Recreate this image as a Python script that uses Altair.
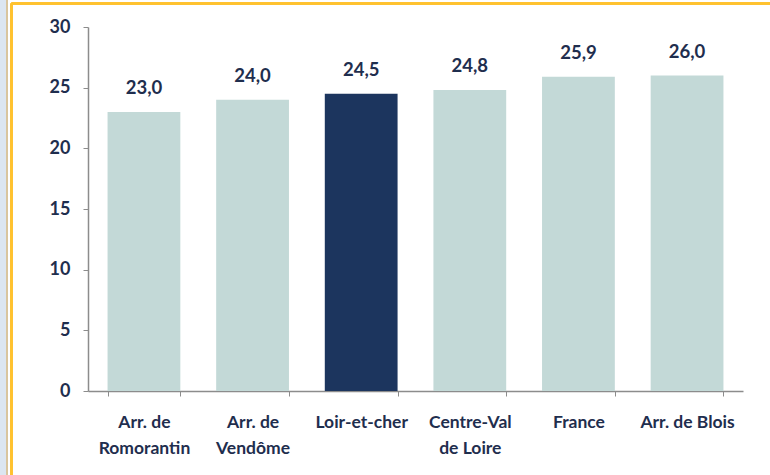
import altair as alt
import pandas as pd

# Average values by territory
categories = ["Arr. de Romorantin", "Arr. de Vendôme", "Loir-et-cher",
              "Centre-Val de Loire", "France", "Arr. de Blois"]
values = [23.0, 24.0, 24.5, 24.8, 25.9, 26.0]
highlight = "Loir-et-cher"

df = pd.DataFrame({
    "cat": categories,
    "val": values,
    "label": [f"{v:.1f}".replace(".", ",") for v in values],
    "hl": [c == highlight for c in categories],
})

TEXT = "#1F2E4E"
FONT = "Lato"
W, H = 655, 364
PAD_L, PAD_T, PAD_R, PAD_B = 88, 27, 27, 84

# Two-line x labels
label_expr = (
    "datum.value == 'Arr. de Romorantin' ? ['Arr. de', 'Romorantin'] : "
    "datum.value == 'Arr. de Vendôme' ? ['Arr. de', 'Vendôme'] : "
    "datum.value == 'Centre-Val de Loire' ? ['Centre-Val', 'de Loire'] : datum.value"
)

x = alt.X(
    "cat:N", sort=categories, title=None,
    scale=alt.Scale(paddingInner=0.33, paddingOuter=0.18),
    axis=alt.Axis(
        labelAngle=0, labelExpr=label_expr, tickBand="extent",
        labelFont=FONT, labelFontSize=17.5, labelFontWeight="bold", labelColor=TEXT,
        labelPadding=17, labelLineHeight=26, labelBaseline="top",
        domainColor="#8C8C8C", tickColor="#8C8C8C", tickSize=5, domainWidth=1.5,
    ),
)
y = alt.Y(
    "val:Q", title=None,
    scale=alt.Scale(domain=[0, 30], nice=False),
    axis=alt.Axis(
        values=[0, 5, 10, 15, 20, 25, 30], grid=False,
        labelFont=FONT, labelFontSize=18, labelFontWeight="bold", labelColor=TEXT,
        labelPadding=13, domainColor="#8C8C8C", tickColor="#8C8C8C", tickSize=5,
        domainWidth=1.5,
    ),
)

bars = alt.Chart(df).mark_bar().encode(
    x=x, y=y,
    color=alt.Color("hl:N", legend=None,
                    scale=alt.Scale(domain=[False, True], range=["#C3D9D7", "#1C355E"])),
)

labels = alt.Chart(df).mark_text(
    font=FONT, fontSize=18.5, fontWeight="bold", color=TEXT,
    baseline="alphabetic", dy=-18,
).encode(x=alt.X("cat:N", sort=categories), y="val:Q", text="label:N")

# Frame around the chart: side strip and orange border lines
side = alt.Chart(df).mark_rect(color="#DCE6F1", clip=False).encode(
    x=alt.value(-PAD_L), x2=alt.value(-PAD_L + 6),
    y=alt.value(-PAD_T), y2=alt.value(H + PAD_B),
)
tan = alt.Chart(df).mark_rule(color="#D8C49E", strokeWidth=1.5, clip=False).encode(
    x=alt.value(-PAD_L + 7), y=alt.value(-PAD_T), y2=alt.value(H + PAD_B),
)
orange_v = alt.Chart(df).mark_rule(color="#FFC22E", strokeWidth=2, clip=False).encode(
    x=alt.value(-PAD_L + 11.5), y=alt.value(-PAD_T + 3.5), y2=alt.value(H + PAD_B),
)
orange_h = alt.Chart(df).mark_rule(color="#FFC22E", strokeWidth=2, clip=False).encode(
    x=alt.value(-PAD_L + 11.5), x2=alt.value(W + PAD_R),
    y=alt.value(-PAD_T + 3.5),
)

chart = alt.layer(side, tan, orange_v, orange_h, bars, labels).properties(
    width=W, height=H,
    autosize=alt.AutoSizeParams(type="none"),
    padding={"left": PAD_L, "top": PAD_T, "right": PAD_R, "bottom": PAD_B},
    background="white",
).configure_view(stroke=None)

chart.save("out.html", embed_options={"renderer": "svg", "actions": False})
